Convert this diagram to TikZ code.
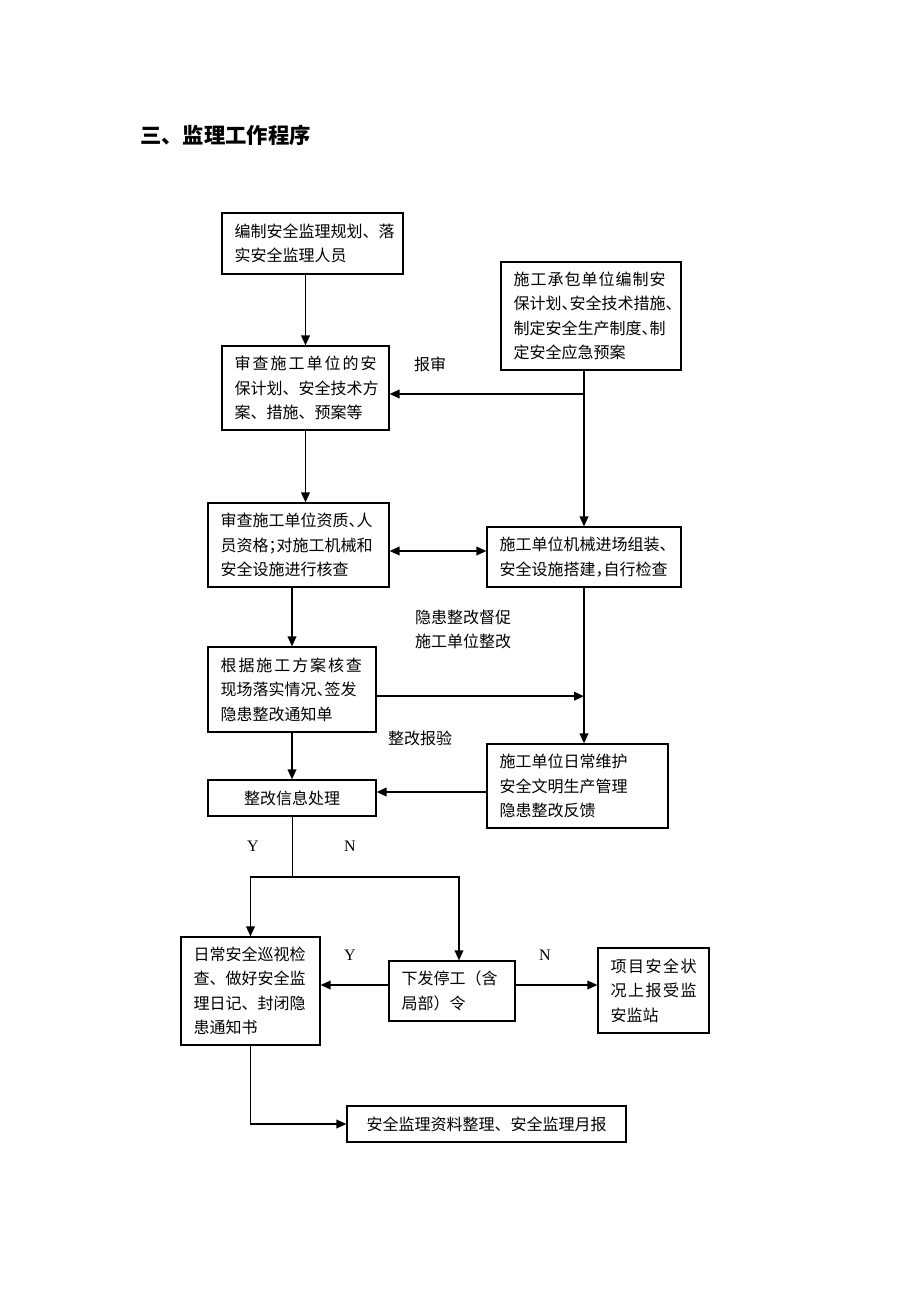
\documentclass[tikz,border=0pt]{standalone}
\usepackage{fontspec}
\setmainfont{Liberation Serif}
\newfontfamily\cjk{Noto Sans CJK SC}
\usetikzlibrary{arrows.meta}
\newcommand\hw[1]{{\addfontfeatures{RawFeature=+halt}#1}}
\makeatletter
\newcommand\spreadline[2]{\leavevmode\hbox to #1{\@tfor\sl@c:=#2\do{\sl@c\hfil}\unskip}}
\makeatother
\tikzset{
  box/.style={draw, line width=0.9pt, align=left, inner xsep=9.5pt, inner ysep=0pt,
    font=\cjk\fontsize{12}{18.4}\selectfont},
  arr/.style={-{Triangle[length=7.5pt,width=6.5pt]}, line width=1.1pt},
  lbl/.style={font=\cjk\fontsize{12}{18}\selectfont, inner sep=0pt, align=left},
  yn/.style={font=\fontsize{12}{14}\selectfont, inner sep=0pt}
}
\begin{document}
\begin{tikzpicture}[x=0.75pt, y=-0.75pt]
  \useasboundingbox (0,0) rectangle (920,1302);
  \node[anchor=west, inner sep=0pt, font=\cjk\bfseries\fontsize{16}{18}\selectfont] (t) at (140,135) {三、监理工作程序};
  \node[box, minimum width=135.75pt, minimum height=45.75pt, text width=116.75pt] (a) at (312.5,243.5) {编制安全监理规划、落\\实安全监理人员};
  \node[box, minimum width=135pt, minimum height=81pt, text width=116pt] (b) at (591,316) {\spreadline{114pt}{施工承包单位编制安}\\保计划\hw{、}安全技术措施\hw{、}\\制定安全生产制度\hw{、}制\\定安全应急预案};
  \node[box, minimum width=125.25pt, minimum height=63pt, text width=106.25pt] (c) at (305.5,388) {\spreadline{106.5pt}{审查施工单位的安}\\保计划、安全技术方\\案、措施、预案等};
  \node[box, minimum width=135.75pt, minimum height=63pt, text width=116.75pt] (d) at (298.5,545) {审查施工单位资质\hw{、}人\\员资格\hw{；}对施工机械和\\安全设施进行核查};
  \node[box, minimum width=145.5pt, minimum height=45pt, text width=126.5pt] (e) at (584,557) {施工单位机械进场组装\hw{、}\\安全设施搭建\hw{，}自行检查};
  \node[box, minimum width=126pt, minimum height=63.75pt, text width=107pt] (f) at (292,689.5) {\spreadline{106pt}{根据施工方案核查}\\现场落实情况\hw{、}签发\\隐患整改通知单};
  \node[box, minimum width=135.75pt, minimum height=63pt, text width=116.75pt] (g) at (577.5,786) {施工单位日常维护\\安全文明生产管理\\隐患整改反馈};
  \node[box, align=center, minimum width=126pt, minimum height=27pt] (h) at (292,798) {整改信息处理};
  \node[box, minimum width=104.25pt, minimum height=81pt, text width=85.25pt] (i) at (250.5,991) {日常安全巡视检\\查、做好安全监\\理日记、封闭隐\\患通知书};
  \node[box, minimum width=94.5pt, minimum height=45pt, text width=75.5pt] (j) at (452,991) {下发停工（含\\局部）令};
  \node[box, minimum width=83.25pt, minimum height=63.75pt, text width=64.25pt] (k) at (653.5,990.5) {\spreadline{64.5pt}{项目安全状}\\\spreadline{64.5pt}{况上报受监}\\安监站};
  \node[box, align=center, minimum width=209.25pt, minimum height=27pt] (l) at (486.5,1124) {安全监理资料整理、安全监理月报};
  \node[lbl] (l1) at (430,364) {报审};
  \node[lbl] (l2) at (463,629) {隐患整改督促\\施工单位整改};
  \node[lbl] (l3) at (420,738) {整改报验};
  \node[yn] (y1) at (253,846) {Y}; \node[yn] (n1) at (350,846) {N};
  \node[yn] (y2) at (350,955) {Y}; \node[yn] (n2) at (545,955) {N};
  \coordinate (fe) at ([yshift=-5pt]f.east -| e);
  \coordinate (br) at (292,877);
  \draw[arr] (a.south -| c) -- (c.north);
  \draw[arr] (b.south -| e) -- (e.north);
  \draw[arr] ([yshift=-4.5pt]c.east -| e) -- ([yshift=-4.5pt]c.east);
  \draw[arr] (c.south) -- (c.south |- d.north);
  \draw[arr, {Triangle[length=7.5pt,width=6.5pt]}-{Triangle[length=7.5pt,width=6.5pt]}] ([yshift=-4.5pt]d.east) -- ([yshift=4.5pt]e.west);
  \draw[arr] (d.south -| f) -- (f.north);
  \draw[arr] (e.south) -- (e.south |- g.north);
  \draw[arr] ([yshift=-5pt]f.east) -- (fe);
  \draw[arr] ([yshift=-4.5pt]g.west) -- ([yshift=4.5pt]h.east);
  \draw[arr] (f.south) -- (h.north);
  \draw[line width=0.7pt] (h.south) -- (br);
  \draw[arr] (br) -| (i.north);
  \draw[arr] (br) -| ([xshift=5.25pt]j.north);
  \draw[arr] ([yshift=4.5pt]j.west) -- ([yshift=4.5pt]i.east);
  \draw[arr] ([yshift=4.5pt]j.east) -- ([yshift=4.5pt]j.east -| k.west);
  \draw[arr] (i.south) |- (l.west);
\end{tikzpicture}
\end{document}
